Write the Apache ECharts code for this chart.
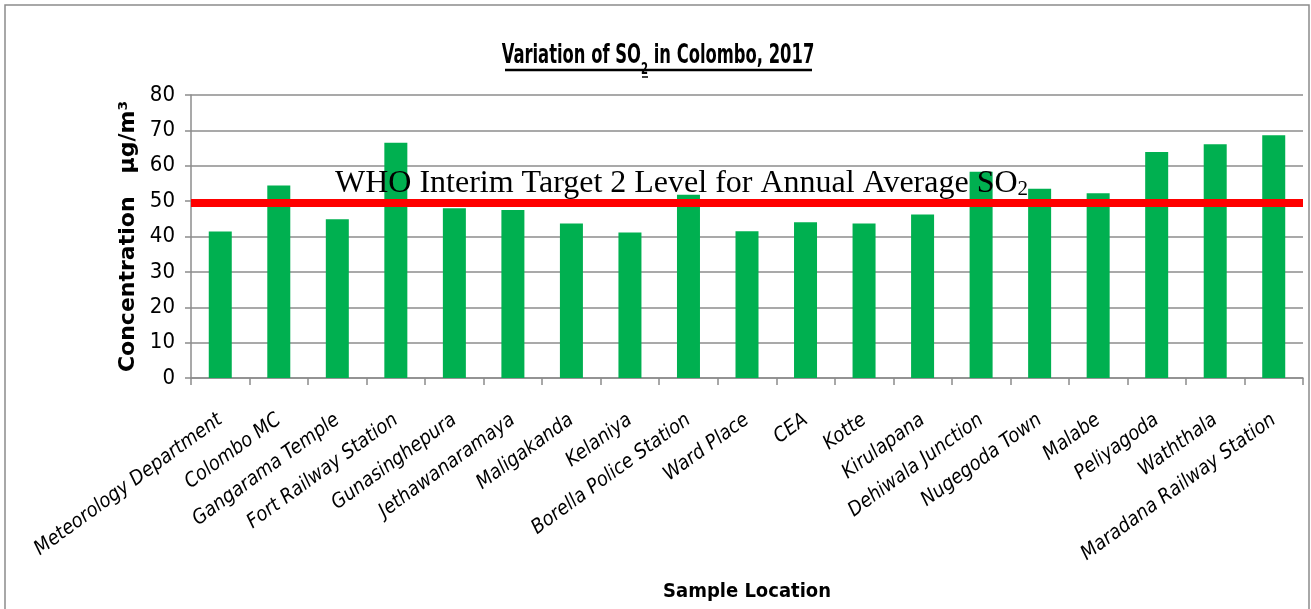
<!DOCTYPE html>
<html>
<head>
<meta charset="utf-8">
<script src="https://cdn.jsdelivr.net/npm/echarts@6/dist/echarts.min.js"></script>
<style>
html, body { margin: 0; padding: 0; background: #fff; }
#main { width: 1311px; height: 609px; }
</style>
</head>
<body>
<div id="main"></div>
<script>
// sample locations and SO2 annual average (µg/m³)
var locations = ['Meteorology Department', 'Colombo MC', 'Gangarama Temple', 'Fort Railway Station',
	'Gunasinghepura', 'Jethawanaramaya', 'Maligakanda', 'Kelaniya', 'Borella Police Station',
	'Ward Place', 'CEA', 'Kotte', 'Kirulapana', 'Dehiwala Junction', 'Nugegoda Town', 'Malabe',
	'Peliyagoda', 'Waththala', 'Maradana Railway Station'];
var so2Values = [41.4, 54.4, 44.9, 66.5, 48.0, 47.5, 43.7, 41.1, 51.8, 41.5, 44.0, 43.7, 46.2,
	58.3, 53.5, 52.2, 63.9, 66.1, 68.6];
var whoTarget = 49.5;

var narrow = "'DejaVu Sans Condensed', 'Liberation Sans Narrow', 'Liberation Sans', sans-serif";
var serif = "'Liberation Serif', 'DejaVu Serif', serif";

var myChart = echarts.init(document.getElementById('main'));

myChart.setOption({
	animation : false,
	graphic : [ {
		// outer chart frame
		type : 'rect',
		shape : { x : 5, y : 5, width : 1304, height : 610 },
		style : { fill : 'none', stroke : '#8c8c8c', lineWidth : 1.5 }
	}, {
		// title, squeezed like the original condensed font
		type : 'text',
		x : 658,
		y : 56,
		scaleX : 0.7,
		style : {
			text : '{t|Variation of SO}{s|2}{t| in Colombo, 2017}',
			align : 'center',
			verticalAlign : 'middle',
			rich : {
				t : { fontFamily : narrow, fontSize : 26, fontWeight : 'bold', fill : '#000' },
				s : { fontFamily : narrow, fontSize : 16, fontWeight : 'bold', fill : '#000', padding : [ 28, 0, 0, 0 ] }
			}
		}
	}, {
		type : 'line',
		shape : { x1 : 505, y1 : 70, x2 : 812, y2 : 70 },
		style : { stroke : '#000', lineWidth : 2.5 }
	}, {
		type : 'line',
		shape : { x1 : 642, y1 : 77, x2 : 648, y2 : 77 },
		style : { stroke : '#000', lineWidth : 1.5 }
	} ],
	grid : {
		left : 191,
		right : 8,
		top : 95,
		bottom : 231
	},
	xAxis : {
		type : 'category',
		data : locations,
		name : 'Sample Location',
		nameLocation : 'middle',
		nameGap : 204,
		nameTextStyle : { fontFamily : narrow, fontSize : 20, fontWeight : 'bold', color : '#000' },
		axisLine : { lineStyle : { color : '#8c8c8c', width : 1.5 } },
		axisTick : { show : true, alignWithLabel : false, length : 7, lineStyle : { color : '#8c8c8c', width : 1.5 } },
		axisLabel : {
			interval : 0,
			rotate : 36,
			margin : 40,
			fontFamily : narrow,
			fontStyle : 'italic',
			fontSize : 20,
			color : '#000'
		}
	},
	yAxis : {
		type : 'value',
		min : 0,
		max : 80,
		interval : 10,
		name : 'Concentration   µg/m³',
		nameLocation : 'middle',
		nameRotate : 90,
		nameGap : 52,
		nameTextStyle : { fontFamily : "'DejaVu Sans', sans-serif", fontSize : 22, fontWeight : 'bold', color : '#000' },
		axisLine : { show : true, lineStyle : { color : '#8c8c8c', width : 1.5 } },
		axisTick : { show : true, length : 6, lineStyle : { color : '#8c8c8c', width : 1.5 } },
		axisLabel : { fontFamily : narrow, fontSize : 22, color : '#000', margin : 16 },
		splitLine : { lineStyle : { color : '#8c8c8c', width : 1.5 } }
	},
	series : [ {
		name : 'SO2',
		type : 'bar',
		data : so2Values,
		barWidth : 23,
		itemStyle : { color : '#00b050' },
		markLine : {
			silent : true,
			symbol : 'none',
			data : [ { yAxis : whoTarget } ],
			lineStyle : { color : '#ff0000', width : 8, type : 'solid' },
			label : {
				position : 'insideStartTop',
				distance : [ 144, 3 ],
				formatter : '{a|WHO Interim Target 2 Level for Annual Average SO}{b|2}',
				rich : {
					a : { fontFamily : serif, fontSize : 32, color : '#000' },
					b : { fontFamily : serif, fontSize : 21, color : '#000', padding : [ 12, 0, 0, 0 ] }
				}
			}
		}
	} ]
});
</script>
</body>
</html>
